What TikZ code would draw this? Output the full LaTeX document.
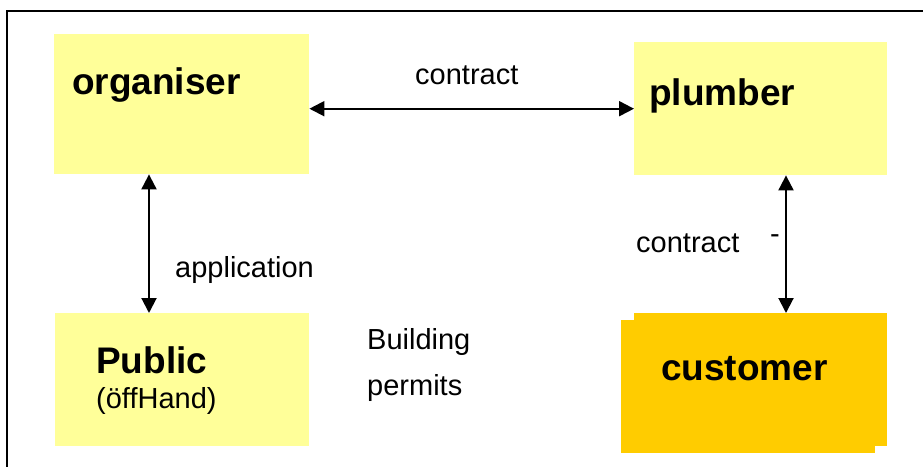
\documentclass[tikz,border=0pt]{standalone}
\usepackage{fontspec}
\setmainfont{Liberation Sans}
\usetikzlibrary{arrows.meta}
\definecolor{lightyel}{HTML}{FFFF99}
\definecolor{custyel}{HTML}{FFCC00}
\begin{document}
\begin{tikzpicture}[x=1pt,y=-1pt,
  box/.style={draw=none,fill=lightyel,inner sep=0pt,anchor=north west},
  cbox/.style={draw=none,fill=custyel,inner sep=0pt,anchor=north west},
  big/.style={font=\fontsize{37}{40}\selectfont\bfseries,inner sep=0pt,anchor=base west},
  lab/.style={font=\fontsize{29}{32}\selectfont,inner sep=0pt,anchor=base west},
  arr/.style={line width=2pt,{Triangle[length=15pt,width=15pt]}-{Triangle[length=15pt,width=15pt]}},
  frame/.style={line width=2pt,black}]
\useasboundingbox (0,0) rectangle (923,466);
\fill[white] (0,0) rectangle (923,466);
% frame
\coordinate (ftl) at (7,11);
\coordinate (ftr) at (924,11);
\coordinate (fbl) at (7,467);
\draw[frame] (fbl) -- (ftl) -- (ftr);
% boxes
\node[box,minimum width=255pt,minimum height=140pt] (org) at (54,34) {};
\node[box,minimum width=253pt,minimum height=133pt] (plumber) at (634,42) {};
\node[box,minimum width=254pt,minimum height=133pt] (pub) at (55,313) {};
\node[cbox,minimum width=254pt,minimum height=133pt] (custback) at (621,320) {};
\node[cbox,minimum width=253pt,minimum height=133pt] (cust) at (634,313) {};
% box texts
\node[big] (orgt) at (72,94) {organiser};
\node[big] (plumbert) at (649,105) {plumber};
\node[big] (pubt) at (96,373) {Public};
\node[lab] (pubsub) at (96,408) {(öffHand)};
\node[big] (custt) at (661,380) {customer};
% labels
\node[lab] (c1) at (415,84) {contract};
\node[lab] (app) at (175,277) {application};
\node[lab] (build) at (367,349) {Building};
\node[lab] (perm) at (367,395) {permits};
\node[lab] (c2) at (636,252) {contract};
\node[lab] (dash) at (770,243) {-};
% arrows
\coordinate (la) at (149,0);
\coordinate (ra) at (786,0);
\draw[arr] (org.east |- plumber.west) -- (plumber.west);
\draw[arr] (org.south -| la) -- (pub.north -| la);
\draw[arr] (plumber.south -| ra) -- (cust.north -| ra);
\end{tikzpicture}
\end{document}
